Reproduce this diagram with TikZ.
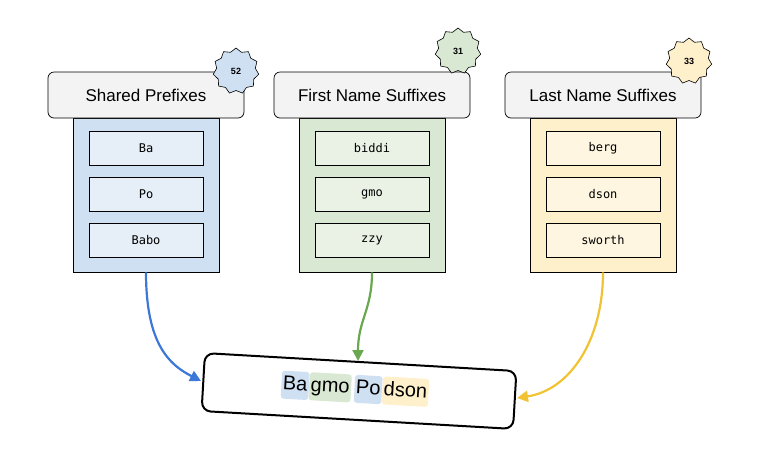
\documentclass[tikz,border=0pt]{standalone}
\usepackage{fontspec}
\setmainfont{Liberation Sans}
\newfontfamily\monof{DejaVu Sans Mono}
\usetikzlibrary{shapes.geometric,arrows.meta}
\definecolor{bluef}{HTML}{CFE0F2}
\definecolor{bluei}{HTML}{E6EEF8}
\definecolor{greenf}{HTML}{D8E8D2}
\definecolor{greeni}{HTML}{EAF2E6}
\definecolor{yelf}{HTML}{FFF0CC}
\definecolor{yeli}{HTML}{FFF6E2}
\definecolor{hdrfill}{HTML}{F3F3F3}
\definecolor{ablue}{HTML}{3C78D8}
\definecolor{agreen}{HTML}{6AA84F}
\definecolor{ayel}{HTML}{F1C232}
\begin{document}
\begin{tikzpicture}[x=1pt,y=-1pt,
 cont/.style={draw=black,line width=0.7pt,minimum width=146pt,minimum height=154pt,inner sep=0pt},
 hdr/.style={draw=black,line width=0.7pt,fill=hdrfill,rounded corners=6pt,minimum width=196pt,minimum height=46pt,font=\fontsize{17}{19}\selectfont},
 item/.style={draw=black,line width=0.6pt,minimum width=114pt,minimum height=34pt,font=\monof\fontsize{12}{14}\selectfont},
 badge/.style={star,star points=11,star point ratio=1.18,draw=black,line width=0.6pt,minimum size=46pt,inner sep=0pt,font=\bfseries\fontsize{9}{10}\selectfont},
 conn/.style={line width=2.2pt,-{Triangle[length=11pt,width=11pt]}},
 chip/.style={rounded corners=3pt,inner xsep=1.5pt,inner ysep=4pt,text height=15pt,text depth=5pt,font=\fontsize{20}{22}\selectfont}]
\useasboundingbox (0,0) rectangle (767,475);
% columns
\foreach \n/\cx/\f/\i/\t/\a/\b/\c/\sx/\sy/\num in {
 p/146/bluef/bluei/Shared Prefixes/Ba/Po/Babo/236/71/52,
 f/372/greenf/greeni/First Name Suffixes/biddi/gmo/zzy/458/51/31,
 l/603/yelf/yeli/Last Name Suffixes/berg/dson/sworth/689/61/33}{
 \node[cont,fill=\f] (\n c) at (\cx,195) {};
 \node[hdr] (\n h) at (\cx,95) {\t};
 \node[item,fill=\i] (\n 1) at (\cx,148.5) {\a};
 \node[item,fill=\i] (\n 2) at (\cx,194.5) {\b};
 \node[item,fill=\i] (\n 3) at (\cx,240) {\c};
 \node[badge,fill=\f] (\n s) at (\sx,\sy) {\num};
}
% result box
\node[draw=black,line width=2pt,rounded corners=9pt,minimum width=312pt,minimum height=58pt,rotate=-3.3,fill=white] (r) at (359,391) {};
\begin{scope}[rotate around={-3.3:(359,391)},transform shape]
\node[chip,fill=bluef,anchor=west] (c1) at (281,389) {Ba};
\node[chip,fill=greenf,anchor=west] (c2) at (c1.east) {gmo};
\node[chip,fill=bluef,anchor=west] (c3) at ([xshift=3pt]c2.east) {Po};
\node[chip,fill=yelf,anchor=west] (c4) at (c3.east) {dson};
\end{scope}
\coordinate (rl) at (201,381);
\coordinate (rt) at (358,361);
\coordinate (rr) at (517,398);
\draw[conn,ablue] (pc.south) .. controls (146,345) and (170,365) .. (rl);
\draw[conn,agreen] (fc.south) .. controls (372,310) and (358,320) .. (rt);
\draw[conn,ayel] (lc.south) .. controls (603,340) and (570,390) .. (rr);
\end{tikzpicture}
\end{document}
